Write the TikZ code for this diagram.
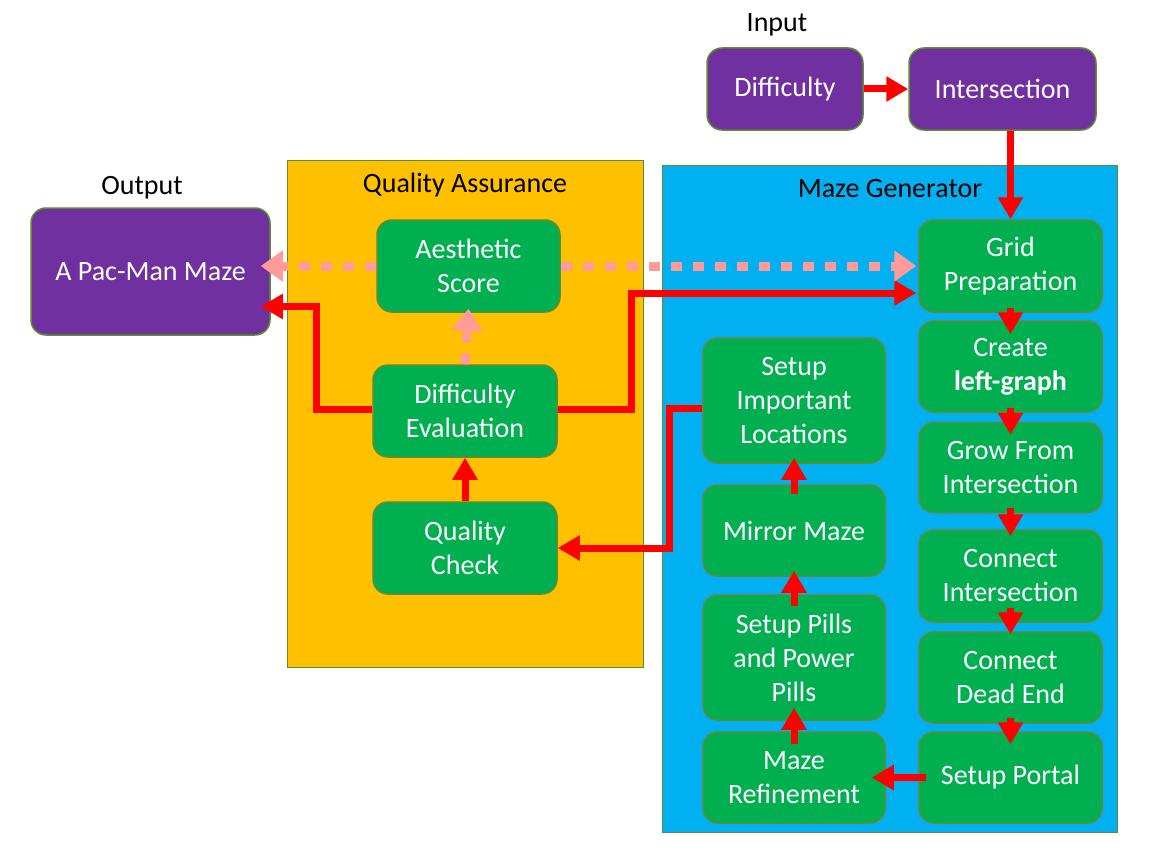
\documentclass[tikz,border=0pt]{standalone}
\usepackage{fontspec}
\setmainfont{Carlito}
\usetikzlibrary{arrows.meta,calc}
\definecolor{qaorange}{HTML}{FFC000}
\definecolor{mgblue}{HTML}{00B0F0}
\definecolor{boxgreen}{HTML}{00B050}
\definecolor{boxpurple}{HTML}{7030A0}
\definecolor{edgegreen}{HTML}{5E8C31}
\definecolor{arrred}{HTML}{FF0000}
\definecolor{arrpink}{HTML}{FF9B9B}
\newcommand\fsz{\fontsize{28}{34}\selectfont}
\begin{document}
\begin{tikzpicture}[x=1pt,y=-1pt,
  box/.style={rounded corners=15pt, draw=edgegreen, line width=1.5pt, text=white, align=center, inner sep=0pt, font=\fsz},
  gbox/.style={box, fill=boxgreen, minimum width=183pt},
  pbox/.style={box, fill=boxpurple},
  container/.style={draw=edgegreen, line width=1pt, inner sep=0pt},
  title/.style={text=black, font=\fsz, inner sep=0pt},
  rarrow/.style={draw=arrred, line width=7pt, -{Triangle[length=22pt,width=24pt]}},
  parrow/.style={draw=arrpink, line width=9pt, dash pattern=on 11pt off 11pt, -{Triangle[length=22pt,width=30pt]}}]
\useasboundingbox (0,0) rectangle (1163,851);
\fill[white] (0,0) rectangle (1163,851);
% containers
\node[container, fill=qaorange, minimum width=356pt, minimum height=507pt] (qa) at (465,413.5) {};
\node[container, fill=mgblue, minimum width=455pt, minimum height=667pt] (mg) at (889.5,498.5) {};
\node[title] (qat) at (465,185) {Quality Assurance};
\node[title] (mgt) at (890,189) {Maze Generator};
\node[title] (inp) at (777,25) {Input};
\node[title] (outp) at (142,188) {Output};
% input / output
\node[pbox, minimum width=156pt, minimum height=82pt] (diff) at (785,89) {Difficulty};
\node[pbox, minimum width=187pt, minimum height=82pt] (inter) at (1002.5,89) {Intersection};
\node[pbox, minimum width=239pt, minimum height=127pt] (pac) at (150.5,271.5) {A Pac-Man Maze};
% quality assurance
\node[gbox, minimum height=92pt] (aes) at (468.5,266) {Aesthetic\\Score};
\node[gbox, minimum width=184pt, minimum height=92pt] (de) at (465,411) {Difficulty\\Evaluation};
\node[gbox, minimum width=184pt, minimum height=92pt] (qc) at (465,548) {Quality\\Check};
% maze generator right column
\node[gbox, minimum height=92pt] (grid) at (1010.5,266) {Grid\\Preparation};
\node[gbox, minimum height=91pt] (create) at (1010.5,366.5) {Create\\\textbf{left-graph}};
\node[gbox, minimum height=90pt] (grow) at (1010.5,467.5) {Grow From\\Intersection};
\node[gbox, minimum height=92pt] (ci) at (1010.5,576) {Connect\\Intersection};
\node[gbox, minimum height=91pt] (dead) at (1010.5,677.5) {Connect\\Dead End};
\node[gbox, minimum height=91pt] (portal) at (1010.5,777.5) {Setup Portal};
% maze generator left column
\node[gbox, minimum width=182pt, minimum height=125pt] (imp) at (794,400.5) {Setup\\Important\\Locations};
\node[gbox, minimum width=182pt, minimum height=91pt] (mirror) at (794,530.5) {Mirror Maze};
\node[gbox, minimum width=182pt, minimum height=125pt] (pills) at (794,657.5) {Setup Pills\\and Power\\Pills};
\node[gbox, minimum width=182pt, minimum height=91pt] (refine) at (794,777.5) {Maze\\Refinement};
% connectors
\draw[rarrow] (diff.east) -- (inter.west);
\draw[rarrow] (grid.north |- inter.south) -- (grid.north);
\draw[rarrow] ($(grid.south)+(0,-5)$) -- ($(create.north)+(0,14)$);
\draw[rarrow] ($(create.south)+(0,-5)$) -- ($(grow.north)+(0,13)$);
\draw[rarrow] ($(grow.south)+(0,-5)$) -- ($(ci.north)+(0,7)$);
\draw[rarrow] ($(ci.south)+(0,-15)$) -- ($(dead.north)+(0,3)$);
\draw[rarrow] ($(dead.south)+(0,-6)$) -- ($(portal.north)+(0,13)$);
\draw[rarrow] ($(portal.west)+(8,0)$) -- ($(refine.east)+(-14,0)$);
\draw[rarrow] ($(refine.north)+(0,13)$) -- ($(pills.south)+(0,-13)$);
\draw[rarrow] ($(pills.north)+(0,12)$) -- ($(mirror.south)+(0,-6)$);
\draw[rarrow] ($(mirror.north)+(0,10)$) -- ($(imp.south)+(0,-6)$);
\draw[rarrow] ($(imp.west)+(0,8)$) -- ++(-33,0) |- (qc.east);
\draw[rarrow] (qc.north) -- (de.south);
\draw[rarrow] ($(de.east)+(0,-2)$) -- ++(74,0) |- ($(grid.west)+(-2,27)$);
\draw[rarrow] ($(de.west)+(0,-2)$) -- ++(-56,0) |- ($(pac.east)+(-10,35)$);
\draw[parrow] (de.north) -- ($(aes.south)+(0,-4)$);
\draw[parrow] (aes.west) -- ($(aes.west -| pac.east)+(-10,0)$);
\draw[parrow] (aes.east) -- ($(aes.east -| grid.west)+(-2,0)$);
\end{tikzpicture}
\end{document}
